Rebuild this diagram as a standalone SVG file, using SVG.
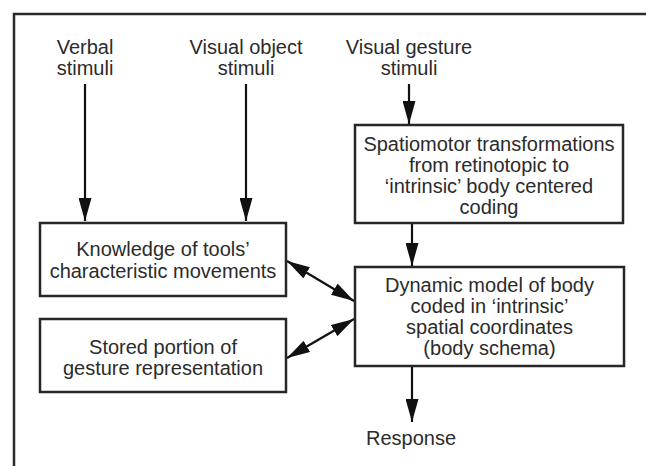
<svg xmlns="http://www.w3.org/2000/svg" width="646" height="466" viewBox="0 0 646 466">
  <defs>
    <marker id="head" markerUnits="userSpaceOnUse" markerWidth="23" markerHeight="13" refX="23" refY="6.5" orient="auto-start-reverse">
      <path d="M0,0 L23,6.5 L0,13 z" fill="#111"/>
    </marker>
  </defs>
  <style>
    .box { fill: #fff; stroke: #262626; stroke-width: 2.5; }
    .frame { fill: none; stroke: #2a2a2a; stroke-width: 2.5; }
    .link { fill: none; stroke: #111; stroke-width: 2.2; }
    text { font-family: "Liberation Sans", Arial, Helvetica, sans-serif; font-size: 20px; fill: #2b2b2b; text-anchor: middle; }
  </style>
  <rect width="646" height="466" fill="#fff"/>

  <!-- open frame: left and top sides only -->
  <path class="frame" d="M14,466 V14 H646"/>

  <!-- stimulus labels -->
  <g id="verbal">
    <text x="85" y="54">Verbal</text>
    <text x="85" y="75">stimuli</text>
  </g>
  <g id="visual-object">
    <text x="246" y="54">Visual object</text>
    <text x="246" y="75">stimuli</text>
  </g>
  <g id="visual-gesture">
    <text x="409" y="54">Visual gesture</text>
    <text x="409" y="75">stimuli</text>
  </g>

  <g id="spatiomotor">
    <rect class="box" x="355" y="125" width="268" height="98"/>
    <text x="489" y="151">Spatiomotor transformations</text>
    <text x="489" y="172">from retinotopic to</text>
    <text x="489" y="193">‘intrinsic’ body centered</text>
    <text x="489" y="214">coding</text>
  </g>

  <g id="tool-knowledge">
    <rect class="box" x="40" y="223" width="246" height="73"/>
    <text x="163" y="256">Knowledge of tools’</text>
    <text x="163" y="278">characteristic movements</text>
  </g>

  <g id="stored-gesture">
    <rect class="box" x="40" y="319" width="246" height="73"/>
    <text x="163" y="354">Stored portion of</text>
    <text x="163" y="375">gesture representation</text>
  </g>

  <g id="body-schema">
    <rect class="box" x="355" y="267" width="269" height="99"/>
    <text x="489.5" y="292">Dynamic model of body</text>
    <text x="489.5" y="313">coded in ‘intrinsic’</text>
    <text x="489.5" y="334">spatial coordinates</text>
    <text x="489.5" y="355">(body schema)</text>
  </g>

  <g id="response">
    <text x="411" y="445">Response</text>
  </g>

  <g id="connectors">
    <line class="link" x1="85" y1="84" x2="85" y2="221" marker-end="url(#head)"/>
    <line class="link" x1="246" y1="84" x2="246" y2="221" marker-end="url(#head)"/>
    <line class="link" x1="409" y1="84" x2="409" y2="124" marker-end="url(#head)"/>
    <line class="link" x1="412" y1="224" x2="412" y2="266" marker-end="url(#head)"/>
    <line class="link" x1="412" y1="367" x2="412" y2="422" marker-end="url(#head)"/>
    <line class="link" x1="287" y1="261" x2="354" y2="301" marker-start="url(#head)" marker-end="url(#head)"/>
    <line class="link" x1="287" y1="358" x2="354" y2="319" marker-start="url(#head)" marker-end="url(#head)"/>
  </g>
</svg>
